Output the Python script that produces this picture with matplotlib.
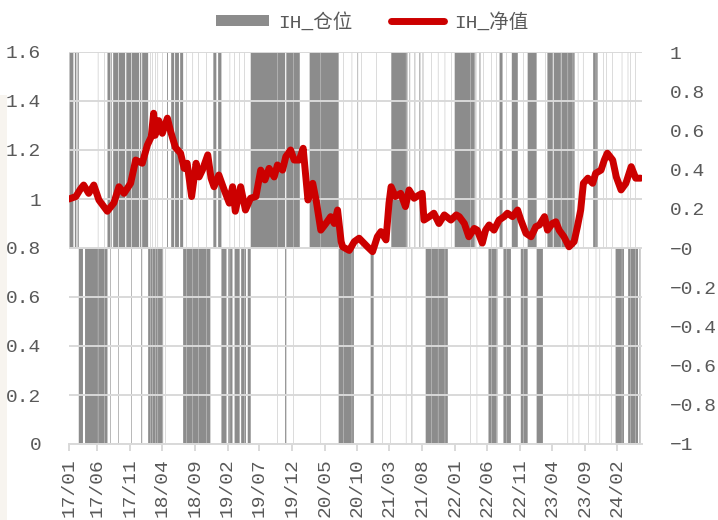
import numpy as np
import pandas as pd
import matplotlib
matplotlib.use('Agg')
import matplotlib.pyplot as plt
from matplotlib.patches import Patch, Rectangle
from matplotlib.lines import Line2D
from matplotlib.ticker import FuncFormatter

plt.rcParams['font.family'] = ['Liberation Mono', 'Noto Sans CJK SC']
plt.rcParams['axes.unicode_minus'] = True

# ---------------- data ----------------
start_date = '2017-01-20'
end_date = '2024-05-24'

nav_dates = ['2017-01-20','2017-02-22','2017-03-15','2017-03-30','2017-04-24','2017-05-17','2017-06-09',
             '2017-07-19','2017-08-18','2017-09-12','2017-10-05','2017-11-06','2017-11-29','2017-12-29',
             '2018-01-23','2018-02-09','2018-02-21','2018-02-28','2018-03-16','2018-04-03','2018-04-26',
             '2018-05-11','2018-06-04','2018-06-27','2018-07-13','2018-07-27','2018-08-17','2018-09-07',
             '2018-09-21','2018-10-08','2018-11-01','2018-11-16','2018-11-30','2018-12-24','2019-01-17',
             '2019-02-11','2019-02-26','2019-03-11','2019-04-04','2019-04-26','2019-05-21','2019-06-14',
             '2019-07-08','2019-07-26','2019-08-15','2019-09-09','2019-09-24','2019-10-17','2019-11-01',
             '2019-11-25','2019-12-11','2020-01-03','2020-01-22','2020-02-13','2020-03-06','2020-03-24',
             '2020-04-14','2020-05-07','2020-05-29','2020-06-16','2020-07-01','2020-07-17','2020-07-24',
             '2020-08-25','2020-09-17','2020-10-09','2020-11-18','2020-12-11','2021-01-04','2021-01-20',
             '2021-02-12','2021-02-26','2021-03-09','2021-03-29','2021-04-22','2021-05-14','2021-06-01',
             '2021-06-24','2021-07-16','2021-08-02','2021-08-10','2021-09-03','2021-09-24','2021-10-19',
             '2021-11-12','2021-12-14','2022-01-07','2022-01-21','2022-02-15','2022-03-08','2022-04-01',
             '2022-04-15','2022-05-10','2022-05-25','2022-06-10','2022-07-04','2022-07-27','2022-08-19',
             '2022-09-05','2022-09-28','2022-10-21','2022-11-07','2022-11-30','2022-12-23','2023-01-16',
             '2023-02-01','2023-02-24','2023-03-10','2023-04-03','2023-04-19','2023-05-04','2023-05-26',
             '2023-06-20','2023-07-13','2023-07-28','2023-08-14','2023-08-25','2023-09-15','2023-10-09',
             '2023-10-23','2023-11-16','2023-12-01','2023-12-15','2024-01-10','2024-01-26','2024-02-19',
             '2024-03-12','2024-04-05','2024-04-26','2024-05-21']
nav_values = [1.00,1.01,1.04,1.057,1.023,1.057,0.996,
              0.95,0.984,1.05,1.023,1.064,1.159,1.146,
              1.22,1.254,1.35,1.26,1.32,1.268,1.33,
              1.275,1.21,1.187,1.125,1.146,1.01,1.146,
              1.09,1.118,1.18,1.085,1.05,1.098,1.037,
              0.983,1.05,0.95,1.05,0.955,1.003,1.01,
              1.118,1.078,1.125,1.09,1.139,1.118,1.173,
              1.2,1.159,1.159,1.207,0.996,1.064,0.99,
              0.873,0.9,0.928,0.9,0.955,0.826,0.805,
              0.79,0.826,0.84,0.805,0.785,0.846,0.867,
              0.833,0.983,1.05,1.01,1.023,0.969,1.037,
              1.003,1.016,1.023,0.914,0.928,0.942,0.9,
              0.935,0.914,0.935,0.928,0.9,0.846,0.88,
              0.873,0.82,0.873,0.894,0.873,0.914,0.928,
              0.942,0.928,0.955,0.914,0.86,0.846,0.887,
              0.894,0.928,0.873,0.9,0.907,0.873,0.846,
              0.805,0.826,0.887,0.955,1.064,1.085,1.064,
              1.105,1.118,1.159,1.187,1.159,1.09,1.037,
              1.064,1.132,1.085,1.085]

# position regimes: value holds from each date until the next one
pos_dates = ['2017-01-20','2017-02-08','2017-02-15','2017-02-22','2017-02-28','2017-03-06','2017-03-24',
             '2017-04-04','2017-07-18','2017-07-31','2017-08-02','2017-08-07','2017-08-14','2017-09-06',
             '2017-09-08','2017-10-09','2017-10-13','2017-11-06','2017-11-08','2017-12-13','2017-12-18',
             '2017-12-22','2017-12-27','2018-01-24','2018-02-05','2018-02-06','2018-02-27','2018-02-28',
             '2018-04-04','2018-04-13','2018-04-16','2018-04-23','2018-04-26','2018-05-11','2018-05-25',
             '2018-05-30','2018-06-18','2018-06-22','2018-07-06','2018-11-12','2018-11-26','2018-12-10',
             '2018-12-18','2019-01-02','2019-01-25','2019-02-04','2019-02-22','2019-03-04','2019-03-29',
             '2019-04-04','2019-04-26','2019-05-06','2019-05-20','2019-09-20','2019-09-23','2019-10-28',
             '2019-11-01','2019-12-05','2019-12-06','2020-01-03','2020-02-19','2020-04-10','2020-04-13',
             '2020-07-03','2020-09-14','2020-09-30','2020-10-02','2020-10-19','2020-10-20','2020-12-01',
             '2020-12-15','2020-12-29','2020-12-30','2021-01-26','2021-01-27','2021-03-08','2021-05-21',
             '2021-06-01','2021-06-03','2021-06-10','2021-06-14','2021-06-24','2021-06-28','2021-07-16',
             '2021-07-21','2021-08-02','2021-08-04','2021-08-16','2021-11-26','2021-12-29','2022-04-01',
             '2022-04-06','2022-04-08','2022-04-25','2022-04-28','2022-05-13','2022-05-16','2022-06-06',
             '2022-07-18','2022-07-27','2022-08-10','2022-08-15','2022-09-19','2022-09-22','2022-10-20',
             '2022-11-03','2022-12-06','2023-01-17','2023-02-15','2023-03-08','2023-04-03','2023-04-06',
             '2023-05-10','2023-05-12','2023-07-13','2023-08-02','2023-08-03','2023-10-09','2023-10-30',
             '2023-11-08','2023-11-09','2023-12-07','2023-12-08','2024-01-02','2024-01-03','2024-01-22',
             '2024-02-20','2024-02-21','2024-02-29','2024-03-19','2024-03-20','2024-04-01','2024-04-02',
             '2024-04-22','2024-04-23','2024-05-06','2024-05-13','2024-05-16']
pos_values = [1,0,1,0,1,-1,0,
              -1,1,-1,1,0,1,-1,
              1,0,1,-1,1,0,1,
              -1,1,-1,1,-1,1,-1,
              0,-1,0,1,0,1,0,
              1,0,1,-1,0,1,0,
              1,-1,0,-1,0,-1,0,
              -1,0,-1,1,-1,1,-1,
              1,-1,1,0,1,-1,1,
              -1,0,1,0,1,0,-1,
              0,1,0,-1,0,1,0,
              1,0,-1,0,1,0,1,
              0,1,0,-1,0,1,0,
              1,0,1,0,1,0,-1,
              0,1,0,-1,0,1,0,
              -1,1,-1,0,1,0,1,
              0,1,0,-1,0,1,0,
              -1,0,1,0,-1,0,-1,
              1,-1,0,1,-1,1,-1,
              1,-1,0,-1,0]

# isolated single-day positions (thin lines) inside the regimes above
flip_dates = ['2017-06-02','2017-07-03','2018-02-14','2018-03-09','2018-04-02','2018-07-20','2018-08-21',
              '2018-09-14','2018-10-23','2019-02-11','2019-03-05','2019-03-27','2019-04-19','2020-07-24',
              '2020-09-03','2021-03-03','2021-05-14','2021-09-10','2021-10-12','2021-11-12','2021-12-14',
              '2022-03-14','2022-04-12','2022-06-20','2022-07-12','2022-08-29','2022-11-15','2023-02-24',
              '2023-06-12','2023-07-05','2023-07-28','2023-08-22','2023-09-18','2023-10-20','2023-11-24',
              '2024-01-05']
flip_values = [1,1,1,1,1,1,1,
               1,1,1,1,1,1,1,
               1,-1,-1,1,1,1,1,
               -1,-1,1,1,1,1,1,
               -1,-1,1,1,-1,-1,1,
               1]

tick_labels = ['17/01','17/06','17/11','18/04','18/09','19/02','19/07','19/12','20/05',
               '20/10','21/03','21/08','22/01','22/06','22/11','23/04','23/09','24/02']

legend_labels = ['IH_仓位', 'IH_净值']

# ---------------- build series on a trading-day axis ----------------
days = pd.bdate_range(start_date, end_date)
n = len(days)
pos_idx = np.searchsorted(pd.to_datetime(pos_dates).values, days.values, side='right') - 1
pos = np.array(pos_values, dtype=float)[pos_idx]
flip_idx = days.searchsorted(pd.to_datetime(flip_dates))
pos[flip_idx] = np.array(flip_values, dtype=float)

nav_x = days.searchsorted(pd.to_datetime(nav_dates))
nav_y = np.array(nav_values)

tick_dates = pd.to_datetime(['20' + t.replace('/', '-') + '-01' for t in tick_labels])
tick_x = days.searchsorted(tick_dates)

# ---------------- figure ----------------
W, H = 718, 520
fig = plt.figure(figsize=(W / 100, H / 100), dpi=100)
fig.patches.append(Rectangle((0, 0), 7 / W, 1 - 95 / H, transform=fig.transFigure,
                             facecolor='#f7f4ef', edgecolor='none', zorder=0))

L, R, T, B = 69, 642, 52, 444
ax1 = fig.add_axes([L / W, 1 - B / H, (R - L) / W, (B - T) / H])
ax2 = ax1.twinx()
ax1.set_zorder(ax2.get_zorder() + 1)
ax1.patch.set_visible(False)

grey = '#8C8C8C'
red = '#CC0000'
txt = '#595959'

xs = np.arange(n + 1)
ys = np.append(pos, pos[-1])
ax2.fill_between(xs, 0, ys, step='post', color=grey, linewidth=0)
ax2.set_ylim(-1, 1)
ax2.set_yticks(np.arange(-1, 1.01, 0.2))

ax1.plot(nav_x, nav_y, color=red, linewidth=5, solid_joinstyle='round',
         solid_capstyle='round', zorder=3)
ax1.set_ylim(0, 1.6)
ax1.set_yticks(np.arange(0, 1.61, 0.2))
ax1.set_xlim(0, n)
ax1.grid(axis='y', color='#D9D9D9', linewidth=1.4, zorder=1)
ax1.set_axisbelow(False)

fmt = FuncFormatter(lambda v, p: ('%g' % round(v, 2)).replace('-', '\u2212'))
ax1.yaxis.set_major_formatter(fmt)
ax2.yaxis.set_major_formatter(fmt)

ax1.set_xticks(tick_x)
ax1.set_xticklabels(tick_labels, rotation=90)

for ax in (ax1, ax2):
    for s in ('left', 'right', 'top'):
        ax.spines[s].set_visible(False)
    ax.spines['bottom'].set_color('#D9D9D9')
    ax.spines['bottom'].set_linewidth(1.4)
ax2.spines['bottom'].set_visible(False)

ax1.tick_params(axis='y', length=0, pad=20, labelsize=14, labelcolor=txt)
ax2.tick_params(axis='y', length=0, pad=20, labelsize=14, labelcolor=txt)
ax1.tick_params(axis='x', length=5, width=1.4, color='#D9D9D9', pad=5,
                labelsize=14, labelcolor=txt)

handles = [Patch(facecolor=grey, edgecolor='none'),
           Line2D([0], [0], color=red, linewidth=5, solid_capstyle='round')]
fig.legend(handles, legend_labels, loc='center', bbox_to_anchor=(372 / W, 1 - 22 / H),
           ncol=2, frameon=False, fontsize=14, labelcolor=txt, handlelength=2.7,
           handleheight=0.5, handletextpad=0.5, columnspacing=2.0)

fig.savefig('out.png', dpi=100)
